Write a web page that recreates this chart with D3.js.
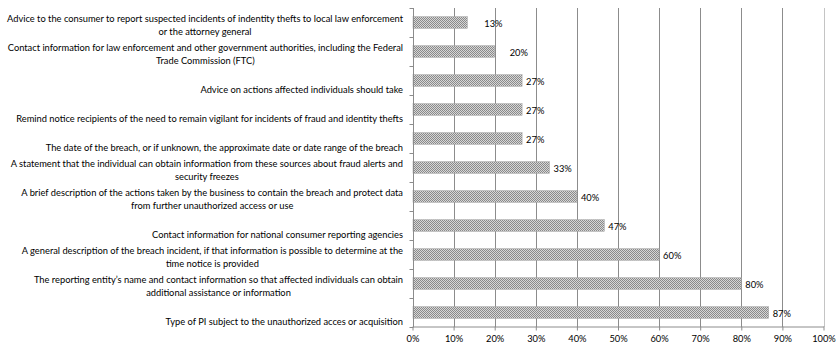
<!DOCTYPE html>
<html>
<head>
<meta charset="utf-8">
<script src="https://cdn.jsdelivr.net/npm/d3@7"></script>
<style>
  html, body { margin: 0; padding: 0; background: #fff; }
  svg { display: block; }
  text { font-family: Lato, "Open Sans", sans-serif; fill: #000; }
</style>
</head>
<body>
<svg id="chart" width="837" height="348"></svg>
<script>
// Categories (each entry is the list of wrapped label lines), top to bottom
const categories = [
  ["Advice to the consumer to report suspected incidents of indentity thefts to local law enforcement", "or the attorney general"],
  ["Contact information for law enforcement and other government authorities, including the Federal", "Trade Commission (FTC)"],
  ["Advice on actions affected individuals should take"],
  ["Remind notice recipients of the need to remain vigilant for incidents of fraud and identity thefts"],
  ["The date of the breach, or if unknown, the approximate date or date range of the breach"],
  ["A statement that the individual can obtain information from these sources about fraud alerts and", "security freezes"],
  ["A brief description of the actions taken by the business to contain the breach and protect data", "from further unauthorized access or use"],
  ["Contact information for national consumer reporting agencies"],
  ["A general description of the breach incident, if that information is possible to determine at the", "time notice is provided"],
  ["The reporting entity\u2019s name and contact information so that affected individuals can obtain", "additional assistance or information"],
  ["Type of PI subject to the unauthorized acces or acquisition"]
];

// Share of notices containing each element
const values = [2/15, 3/15, 4/15, 4/15, 4/15, 5/15, 6/15, 7/15, 9/15, 12/15, 13/15];

// Percentage tick values for the value axis
const xTicks = [0, 0.1, 0.2, 0.3, 0.4, 0.5, 0.6, 0.7, 0.8, 0.9, 1.0];

const svg = d3.select("#chart");
const fontSize = 9.3;

const x = d3.scaleLinear().domain([0, 1]).range([412.5, 823.5]);
const y = d3.scaleBand()
  .domain(d3.range(categories.length))
  .range([8, 327])
  .paddingInner(0.6)
  .paddingOuter(0.3);

// Checkerboard fill for the bars
const defs = svg.append("defs");
const pat = defs.append("pattern")
  .attr("id", "checker")
  .attr("patternUnits", "userSpaceOnUse")
  .attr("width", 2).attr("height", 2);
pat.append("rect").attr("width", 2).attr("height", 2).attr("fill", "#d6d6d6");
pat.append("rect").attr("width", 1).attr("height", 1).attr("fill", "#8a8a8a");
pat.append("rect").attr("x", 1).attr("y", 1).attr("width", 1).attr("height", 1).attr("fill", "#8a8a8a");

// Vertical gridlines
svg.append("g")
  .selectAll("line")
  .data(xTicks.slice(1))
  .join("line")
  .attr("x1", d => Math.round(x(d)) + 0.5)
  .attr("x2", d => Math.round(x(d)) + 0.5)
  .attr("y1", 8).attr("y2", 327)
  .attr("stroke", d => d === 1 ? "#c4c4c4" : "#8c8c8c")
  .attr("stroke-width", 1);

// Bars
svg.append("g")
  .selectAll("rect")
  .data(values)
  .join("rect")
  .attr("x", x(0) + 0.5)
  .attr("y", (d, i) => y(i))
  .attr("width", d => x(d) - x(0) - 0.5)
  .attr("height", y.bandwidth())
  .attr("fill", "url(#checker)")
  .attr("stroke", "#a0a0a0")
  .attr("stroke-width", 0.5);

// Value labels at the end of each bar
const labelShift = { 0: 13, 1: 11 };
svg.append("g")
  .selectAll("text")
  .data(values)
  .join("text")
  .attr("x", (d, i) => x(d) + 4 + (labelShift[i] || 0))
  .attr("y", (d, i) => y(i) + y.bandwidth() / 2 + 4.5)
  .attr("font-size", fontSize)
  .text(d => Math.round(d * 100) + "%");

// Category axis: line and ticks between categories
const axisX = Math.round(x(0)) + 0.5;
const yAxis = svg.append("g").attr("stroke", "#8c8c8c").attr("stroke-width", 1);
yAxis.append("line")
  .attr("x1", axisX).attr("x2", axisX)
  .attr("y1", 8).attr("y2", 327);
yAxis.selectAll("line.tick")
  .data(d3.range(categories.length + 1))
  .join("line")
  .attr("class", "tick")
  .attr("x1", axisX - 4).attr("x2", axisX)
  .attr("y1", i => Math.round(8 + i * y.step()) + 0.5)
  .attr("y2", i => Math.round(8 + i * y.step()) + 0.5);

// Value axis along the bottom
const xAxis = d3.axisBottom(x)
  .tickValues(xTicks)
  .tickFormat(d3.format(".0%"))
  .tickSize(4)
  .tickSizeOuter(0)
  .tickPadding(5);
const xg = svg.append("g")
  .attr("transform", "translate(0,326.5)")
  .call(xAxis);
xg.select(".domain").attr("stroke", "#8c8c8c");
xg.selectAll(".tick line").attr("stroke", "#8c8c8c");
xg.selectAll(".tick text")
  .attr("font-size", fontSize)
  .attr("font-family", "Lato, 'Open Sans', sans-serif")
  .attr("fill", "#000");

// Category labels: wrapped lines centred within a block right-aligned to the axis
const labelRight = 403;
const lineGap = 13;
const lg = svg.append("g");
categories.forEach((lines, i) => {
  const g = lg.append("g");
  const cy = y(i) + y.bandwidth() / 2 + 8.5;
  const texts = lines.map((s, k) =>
    g.append("text")
      .attr("font-size", fontSize)
      .attr("y", cy - (lines.length - 1 - k) * lineGap + 3.5)
      .text(s));
  const widths = texts.map(t => t.node().getComputedTextLength());
  const blockW = d3.max(widths);
  texts.forEach(t => t.attr("x", labelRight - blockW / 2).attr("text-anchor", "middle"));
});
</script>
</body>
</html>
